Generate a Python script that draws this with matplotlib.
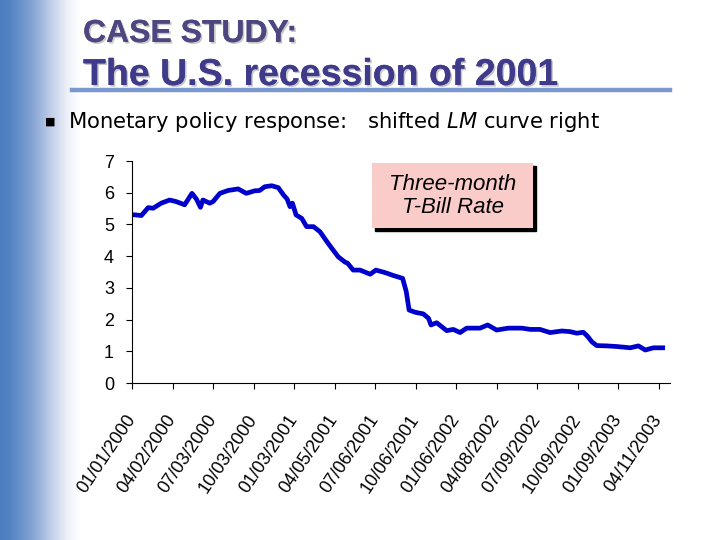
import numpy as np
import matplotlib.pyplot as plt
from matplotlib.colors import LinearSegmentedColormap
from matplotlib.patches import Rectangle
import matplotlib.patheffects as pe

plt.rcParams['font.family'] = ['Liberation Sans', 'DejaVu Sans']

# position along the date axis, in tick intervals (0 = 01/01/2000)
t = [0.08, 0.23, 0.40, 0.52, 0.72, 0.93, 1.09, 1.30, 1.48, 1.59, 1.69, 1.75,
     1.92, 2.00, 2.17, 2.37, 2.62, 2.82, 3.03, 3.15, 3.28, 3.45, 3.61, 3.74,
     3.83, 3.90, 3.96, 4.05, 4.19, 4.31, 4.48, 4.64, 4.81, 4.93, 5.09, 5.26,
     5.32, 5.46, 5.63, 5.88, 6.02, 6.25, 6.45, 6.68, 6.77, 6.84, 6.99, 7.19,
     7.32, 7.38, 7.52, 7.77, 7.93, 8.10, 8.26, 8.59, 8.78, 9.00, 9.29, 9.62,
     9.83, 10.07, 10.32, 10.61, 10.81, 10.98, 11.14, 11.24, 11.35, 11.47,
     11.72, 11.97, 12.30, 12.50, 12.67, 12.87, 13.10]
rate = [5.30, 5.28, 5.53, 5.51, 5.67, 5.77, 5.72, 5.62, 5.98, 5.80, 5.54, 5.77,
        5.67, 5.72, 5.98, 6.07, 6.12, 5.98, 6.06, 6.07, 6.19, 6.22, 6.16, 5.93,
        5.80, 5.56, 5.67, 5.30, 5.19, 4.93, 4.93, 4.77, 4.46, 4.25, 3.98, 3.81,
        3.78, 3.56, 3.56, 3.43, 3.56, 3.48, 3.39, 3.30, 2.88, 2.30, 2.23, 2.18,
        2.04, 1.83, 1.90, 1.65, 1.69, 1.59, 1.73, 1.73, 1.83, 1.67, 1.73, 1.73,
        1.69, 1.69, 1.59, 1.64, 1.62, 1.57, 1.60, 1.48, 1.30, 1.18,
        1.17, 1.15, 1.11, 1.17, 1.04, 1.11, 1.11]

date_labels = ['01/01/2000', '04/02/2000', '07/03/2000', '10/03/2000',
               '01/03/2001', '04/05/2001', '07/06/2001', '10/06/2001',
               '01/06/2002', '04/08/2002', '07/09/2002', '10/09/2002',
               '01/09/2003', '04/11/2003']

fig = plt.figure(figsize=(7.2, 5.4), dpi=100)

# blue gradient strip on the left
side = fig.add_axes([0, 0, 80 / 720, 1], zorder=-5)
cmap = LinearSegmentedColormap.from_list(
    'side', [(0.0, '#4a7ebf'), (0.12, '#5283c2'), (0.4, '#84a3d3'),
             (0.65, '#c3d0e9'), (0.85, '#eef1f8'), (1.0, '#ffffff')])
side.imshow(np.linspace(0, 1, 200)[None, :], cmap=cmap, aspect='auto',
            extent=[0, 1, 0, 1])
side.axis('off')

shadow = [pe.withSimplePatchShadow(offset=(1.2, -1.2), shadow_rgbFace='#b0b0b0', alpha=0.7), pe.Normal()]
fig.text(83 / 720, 1 - 42 / 540, 'CASE STUDY:', fontsize=23, fontweight='bold',
         color='#4d4680', path_effects=shadow)
fig.text(83 / 720, 1 - 85 / 540, 'The U.S. recession of 2001', fontsize=27,
         fontweight='bold', color='#3f3a8a', path_effects=shadow)
fig.add_artist(plt.Line2D([72 / 720, 670 / 720], [1 - 90 / 540, 1 - 90 / 540],
                          color='#7b97cf', lw=3.2))

fig.text(50 / 720, 1 - 122 / 540, '\u25a0', fontsize=8, ha='center', va='center',
         family='DejaVu Sans')
fig.text(68 / 720, 1 - 122 / 540,
         'Monetary policy response:   shifted $\\mathit{LM}$ curve right',
         fontsize=15.2, va='center', family='DejaVu Sans')

ax = fig.add_axes([132 / 720, 1 - 383 / 540, 538 / 720, 222 / 540])
ax.plot(t, rate, color='#0000cc', lw=3.4, solid_joinstyle='round')
ax.set_ylim(0, 7)
ax.set_xlim(0, 13.28)
ax.set_yticks(range(8))
ax.set_xticks(range(len(date_labels)))
ax.set_xticklabels(date_labels, rotation=56, ha='right', va='center',
                   rotation_mode='anchor', fontsize=13)
ax.tick_params(axis='y', labelsize=13, length=4, pad=9)
ax.tick_params(axis='x', length=4, pad=20)
for s in ['top', 'right']:
    ax.spines[s].set_visible(False)
ax.patch.set_alpha(0)

# legend box with shadow
fig.add_artist(Rectangle((375 / 720, 1 - 231 / 540), 161 / 720, 65 / 540,
                         transform=fig.transFigure, color='black'))
fig.add_artist(Rectangle((372 / 720, 1 - 228 / 540), 161 / 720, 65 / 540,
                         transform=fig.transFigure, facecolor='#f9cbc9',
                         edgecolor='none'))
fig.text(453 / 720, 1 - 196 / 540, 'Three-month\nT-Bill Rate', fontsize=16,
         style='italic', ha='center', va='center', linespacing=1.15)

fig.savefig('out.png', dpi=100)
